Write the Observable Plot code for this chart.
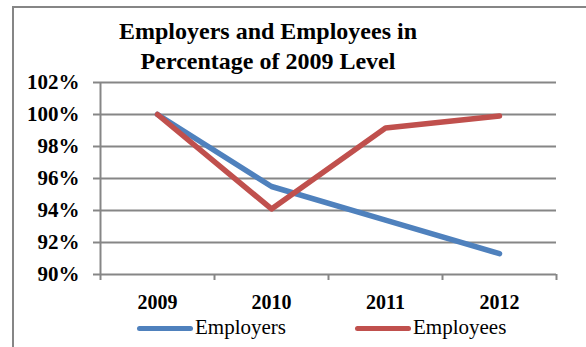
<!DOCTYPE html>
<html>
<head>
<meta charset="utf-8">
<script src="https://cdn.jsdelivr.net/npm/d3@7"></script>
<script src="https://cdn.jsdelivr.net/npm/@observablehq/plot@0.6"></script>
<style>
  html, body { margin: 0; padding: 0; background: #fff; }
  #wrap { position: relative; width: 586px; height: 347px; overflow: hidden; font-family: "Liberation Serif", "Times New Roman", serif; }
  #frame { position: absolute; left: 12px; top: 6px; width: 580px; height: 360px; border-left: 2px solid #868686; border-top: 2px solid #868686; }
  #title { position: absolute; left: 0; width: 536px; top: 16px; text-align: center; font-weight: bold; font-size: 24px; line-height: 30px; color: #000; }
  #chart { position: absolute; left: 0; top: 0; }
  .leg { position: absolute; top: 315px; font-size: 21px; color: #000; white-space: nowrap; }
  .leg .sw { display: inline-block; width: 56px; height: 5px; border-radius: 3px; vertical-align: middle; margin-right: 2px; position: relative; top: -1px; }
</style>
</head>
<body>
<div id="wrap">
  <div id="frame"></div>
  <div id="chart"></div>
  <div id="title">Employers and Employees in<br>Percentage of 2009 Level</div>
  <div class="leg" style="left:137px"><span class="sw" style="background:#4F81BD"></span>Employers</div>
  <div class="leg" style="left:355px"><span class="sw" style="background:#C0504D"></span>Employees</div>
</div>
<script>
const years = [2009, 2010, 2011, 2012];
const employers = [100, 95.5, 93.4, 91.3];
const employees = [100, 94.1, 99.15, 99.9];
const yTicks = [90, 92, 94, 96, 98, 100, 102];
const seriesNames = ["Employers", "Employees"];
const seriesColors = ["#4F81BD", "#C0504D"];

const data = [];
years.forEach((y, i) => {
  data.push({year: y, value: employers[i], series: seriesNames[0]});
  data.push({year: y, value: employees[i], series: seriesNames[1]});
});
const boundaries = [years[0] - 0.5, ...years.map(y => y + 0.5)];

const chart = Plot.plot({
  width: 586,
  height: 347,
  marginTop: 82,
  marginBottom: 73,
  marginLeft: 100,
  marginRight: 30,
  style: {background: "transparent", fontFamily: "Liberation Serif, Times New Roman, serif"},
  x: {type: "linear", domain: [years[0] - 0.5, years[years.length - 1] + 0.5]},
  y: {type: "linear", domain: [90, 102]},
  color: {domain: seriesNames, range: seriesColors},
  marks: [
    Plot.ruleY(yTicks.slice(1), {stroke: "#868686", strokeWidth: 2, strokeOpacity: 1}),
    Plot.ruleX([boundaries[0]], {stroke: "#868686", strokeWidth: 2}),
    Plot.ruleY([90], {stroke: "#868686", strokeWidth: 2}),
    Plot.axisX({ticks: boundaries, tickSize: 6, tickFormat: () => "", stroke: "#868686", strokeWidth: 2, label: null}),
    Plot.axisY({ticks: yTicks, tickSize: 7, tickPadding: 14, tickFormat: d => d + "%", stroke: "#868686", strokeWidth: 2, fontSize: 21, fontWeight: "bold", fill: "#000", label: null}),
    Plot.axisX({ticks: years, tickSize: 0, tickPadding: 20, tickFormat: d => String(d), fontSize: 20, fontWeight: "bold", fill: "#000", label: null}),
    Plot.line(data, {x: "year", y: "value", z: "series", stroke: "series", strokeWidth: 5.5, strokeLinejoin: "round", strokeLinecap: "round"})
  ]
});
document.getElementById("chart").appendChild(chart);
</script>
</body>
</html>
